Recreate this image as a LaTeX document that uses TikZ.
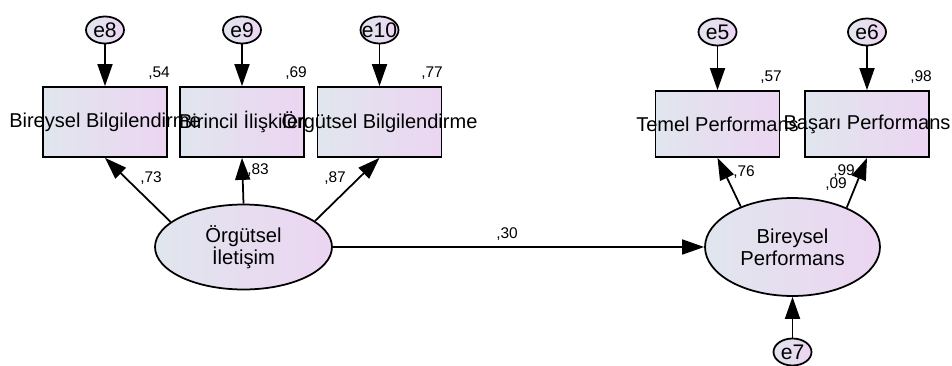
\documentclass[tikz,border=0pt]{standalone}
\usepackage{fontspec}
\setmainfont{Liberation Sans}
\usetikzlibrary{shapes.geometric,arrows.meta}

\definecolor{fillL}{RGB}{224,230,237}
\definecolor{fillR}{RGB}{236,213,242}

\begin{document}
\begin{tikzpicture}[x=0.02cm, y=-0.02cm, line width=1pt,
  obs/.style={draw, rectangle, minimum width=2.48cm, minimum height=1.4cm,
    left color=fillL, right color=fillR},
  lat/.style={draw, ellipse, minimum width=3.54cm, minimum height=1.7cm,
    left color=fillL, right color=fillR, align=center,
    font=\fontsize{11.5}{12.5}\selectfont},
  err/.style={draw, ellipse, minimum width=0.76cm, minimum height=0.54cm,
    inner sep=0pt, left color=fillL, right color=fillR,
    font=\fontsize{12}{13}\selectfont},
  txt/.style={font=\fontsize{11.4}{13}\selectfont, inner sep=0pt},
  num/.style={font=\fontsize{8.8}{10}\selectfont, inner sep=0pt},
  arr/.style={-{Triangle[length=0.44cm, width=0.3cm]}}]
  \useasboundingbox (0,0) rectangle (952,365);

  % 观测变量方框
  \node[obs] (b1) at (105,122) {};
  \node[obs] (b2) at (242,122) {};
  \node[obs] (b3) at (379.5,122) {};
  \node[obs, minimum height=1.32cm] (b4) at (717.5,124) {};
  \node[obs, minimum height=1.32cm] (b5) at (867,124) {};

  % 潜变量
  \node[lat] (oi) at (243.5,247) {Örgütsel\\İletişim};
  \node[lat, minimum width=3.5cm, minimum height=1.96cm] (bp) at (792.5,247) {Bireysel\\Performans};

  % 误差项
  \node[err] (e8)  at (105,30)   {\makebox[0pt]{e8}};
  \node[err] (e9)  at (242,30)   {\makebox[0pt]{e9}};
  \node[err] (e10) at (379.5,30) {\makebox[0pt]{e10}};
  \node[err] (e5)  at (717.5,32) {\makebox[0pt]{e5}};
  \node[err] (e6)  at (867,32)   {\makebox[0pt]{e6}};
  \node[err] (e7)  at (792.5,352) {\makebox[0pt]{e7}};

  \draw[arr] (e8)  -- (b1.north);
  \draw[arr] (e9)  -- (b2.north);
  \draw[arr] (e10) -- (b3.north);
  \draw[arr] (e5)  -- (b4.north);
  \draw[arr] (e6)  -- (b5.north);
  \draw[arr] (e7)  -- (bp.south);

  % 路径
  \draw[arr] (oi.161) -- (b1.south);
  \draw[arr] (oi.north) -- (b2.south);
  \draw[arr] (oi.20) -- (b3.south);
  \draw[arr] (oi.east) -- (bp.west);
  \draw[arr] (bp.142) -- (b4.south);
  \draw[arr] (bp.36) -- (b5.south);

  % 方框文字（最后画，压在相邻方框上）
  \node[txt] (t1) at (b1) {Bireysel Bilgilendirme};
  \node[txt] (t2) at (b2) {Birincil İlişkiler};
  \node[txt] (t3) at (b3) {Örgütsel Bilgilendirme};
  \node[txt] (t4) at (b4) {Temel Performans};
  \node[txt] (t5) at (b5) {Başarı Performans};

  % 系数
  \node[num] (r54) at (159,73)  {,54};
  \node[num] (r69) at (296,73)  {,69};
  \node[num] (r77) at (432,73)  {,77};
  \node[num] (r57) at (771,77)  {,57};
  \node[num] (r98) at (921,77)  {,98};
  \node[num] (p73) at (151,178) {,73};
  \node[num] (p83) at (258,170) {,83};
  \node[num] (p87) at (335,178) {,87};
  \node[num] (p76) at (744,172) {,76};
  \node[num] (p99) at (844,171) {,99};
  \node[num] (p09) at (836,184) {,09};
  \node[num] (p30) at (507,234) {,30};
\end{tikzpicture}
\end{document}
